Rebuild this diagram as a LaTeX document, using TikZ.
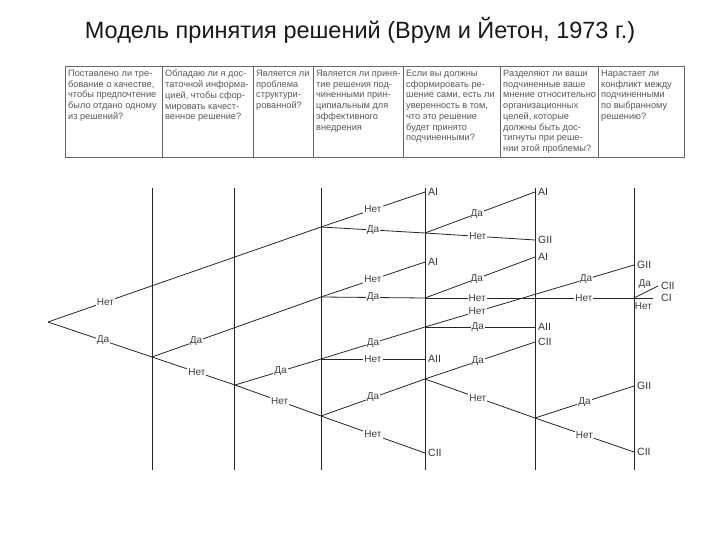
\documentclass[tikz,border=0pt]{standalone}
\usepackage{fontspec}
\setmainfont{Liberation Sans}
\begin{document}
\begin{tikzpicture}[x=1pt,y=-1pt,
  tline/.style={line width=0.8pt, black!85},
  vline/.style={line width=0.8pt, black!85},
  lbl/.style={fill=white, inner sep=1pt, text=black!75, font=\fontsize{10}{12}\selectfont},
  term/.style={anchor=west, inner sep=0pt, xshift=3pt, text=black!80, font=\fontsize{10.5}{12}\selectfont},
  cell/.style={anchor=north west, inner sep=0pt, align=left, text=black!65, font=\fontsize{9.2}{10.7}\selectfont},
  grid/.style={draw=black!60, line width=0.7pt}
]
\useasboundingbox (0,0) rectangle (720,540);
\fill[white] (0,0) rectangle (720,540);

% title
\node[font=\fontsize{23.5}{28}\selectfont, text=black!90] (title) at (360,30) {Модель принятия решений (Врум и Йетон, 1973 г.)};

% header table
\draw[grid] (65,66) rectangle (684,157);
\foreach \x in {162,253,313,403,500,598} \draw[grid] (\x,66) -- (\x,157);
\node[cell] (q1) at (68,70) {Поставлено ли тре-\\бование о качестве,\\чтобы предпочтение\\было отдано одному\\из решений?};
\node[cell] (q2) at (165,70) {Обладаю ли я дос-\\таточной информа-\\цией, чтобы сфор-\\мировать качест-\\венное решение?};
\node[cell] (q3) at (256,70) {Является ли\\проблема\\структури-\\рованной?};
\node[cell] (q4) at (316,70) {Является ли приня-\\тие решения под-\\чиненными прин-\\ципиальным для\\эффективного\\внедрения};
\node[cell] (q5) at (406,70) {Если вы должны\\сформировать ре-\\шение сами, есть ли\\уверенность в том,\\что это решение\\будет принято\\подчиненными?};
\node[cell] (q6) at (503,70) {Разделяют ли ваши\\подчиненные ваше\\мнение относительно\\организационных\\целей, которые\\должны быть дос-\\тигнуты при реше-\\нии этой проблемы?};
\node[cell] (q7) at (601,70) {Нарастает ли\\конфликт между\\подчиненными\\по выбранному\\решению?};

% vertical lines of the tree
\foreach \x in {152,234,321,425,535,634} \draw[vline] (\x,188) -- (\x,470);

% branch points
\coordinate (r) at (48,322);
\coordinate (n1) at (152,357);
\coordinate (n2) at (235,385);
\coordinate (A) at (321,227);
\coordinate (B) at (321,297);
\coordinate (C) at (321,359);
\coordinate (D) at (321,416);
\coordinate (A1) at (425,233);
\coordinate (B1) at (425,298);
\coordinate (C1) at (425,327);
\coordinate (E1) at (425,379);
\coordinate (F1) at (535,418);
\coordinate (G1) at (634,298);

% end points
\coordinate (tA) at (425,192);
\coordinate (tA1y) at (535,192);
\coordinate (tA1n) at (535,240);
\coordinate (tB) at (425,262);
\coordinate (tB1y) at (535,257);
\coordinate (tC1y) at (535,327);
\coordinate (tC1n) at (634,265);
\coordinate (tCn) at (425,359);
\coordinate (tDn) at (425,453);
\coordinate (tE1y) at (535,342);
\coordinate (tF1y) at (634,386);
\coordinate (tF1n) at (634,452);
\coordinate (tG1y) at (658,286);
\coordinate (tG1n) at (653,298);

% terminal labels
\node[term] (lA) at (tA) {AI};
\node[term] (lA1y) at (tA1y) {AI};
\node[term] (lA1n) at (tA1n) {GII};
\node[term] (lB) at (tB) {AI};
\node[term] (lB1y) at (tB1y) {AI};
\node[term] (lC1y) at (tC1y) {AII};
\node[term] (lC1n) at (tC1n) {GII};
\node[term] (lCn) at (tCn) {AII};
\node[term] (lDn) at (tDn) {CII};
\node[term] (lE1y) at (tE1y) {CII};
\node[term] (lF1y) at (tF1y) {GII};
\node[term] (lF1n) at (tF1n) {CII};
\node[term] (lG1y) at (tG1y) {CII};
\node[term, xshift=5pt] (lG1n) at (tG1n) {CI};

% branches
\draw[tline] (r) -- node[lbl,pos=0.21] (e1) {Нет} (A);
\draw[tline] (r) -- node[lbl,pos=0.53] (e2) {Да} (n1);
\draw[tline] (n1) -- node[lbl,pos=0.26] (e3) {Да} (B);
\draw[tline] (n1) -- node[lbl,pos=0.54] (e4) {Нет} (n2);
\draw[tline] (n2) -- node[lbl,pos=0.53] (e5) {Да} (C);
\draw[tline] (n2) -- node[lbl,pos=0.52] (e6) {Нет} (D);

\draw[tline] (A) -- node[lbl,pos=0.5] (e7) {Нет} (tA);
\draw[tline] (A) -- node[lbl,pos=0.5] (e8) {Да} (A1);
\draw[tline] (A1) -- node[lbl,pos=0.47] (e9) {Да} (tA1y);
\draw[tline] (A1) -- node[lbl,pos=0.48] (e10) {Нет} (tA1n);

\draw[tline] (B) -- node[lbl,pos=0.5] (e11) {Нет} (tB);
\draw[tline] (B) -- node[lbl,pos=0.5] (e12) {Да} (B1);
\draw[tline] (B1) -- node[lbl,pos=0.47] (e13) {Да} (tB1y);
\draw[tline] (B1) -- node[lbl,pos=0.25] (e14) {Нет} node[lbl,pos=0.76] (e15) {Нет} (G1);

\draw[tline] (C) -- node[lbl,pos=0.5] (e16) {Да} (C1);
\draw[tline] (C) -- node[lbl,pos=0.5] (e17) {Нет} (tCn);
\draw[tline] (C1) -- node[lbl,pos=0.48] (e18) {Да} (tC1y);
\draw[tline] (C1) -- node[lbl,pos=0.25] (e19) {Нет} node[lbl,pos=0.77] (e20) {Да} (tC1n);

\draw[tline] (D) -- node[lbl,pos=0.5] (e21) {Да} (E1);
\draw[tline] (D) -- node[lbl,pos=0.5] (e22) {Нет} (tDn);
\draw[tline] (E1) -- node[lbl,pos=0.48] (e23) {Да} (tE1y);
\draw[tline] (E1) -- node[lbl,pos=0.48] (e24) {Нет} (F1);
\draw[tline] (F1) -- node[lbl,pos=0.5] (e25) {Да} (tF1y);
\draw[tline] (F1) -- node[lbl,pos=0.5] (e26) {Нет} (tF1n);

\draw[tline] (G1) -- node[pos=0.45, lbl, fill=none, above=3pt] (e27) {Да} (tG1y);
\draw[tline] (G1) -- node[pos=0.5, lbl, fill=none, below=3pt] (e28) {Нет} (tG1n);
\end{tikzpicture}
\end{document}
